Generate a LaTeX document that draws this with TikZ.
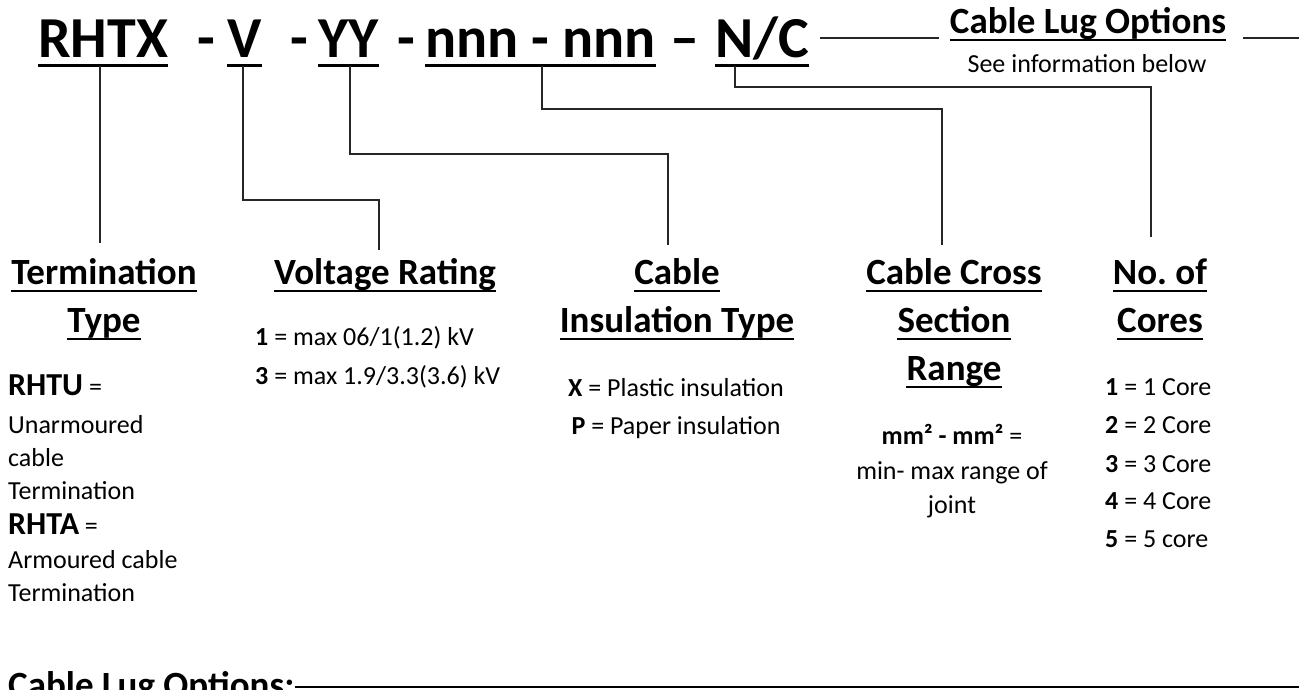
\documentclass[tikz,border=0pt]{standalone}
\usepackage{fontspec}
\setmainfont{Carlito}
\begin{document}
\begin{tikzpicture}[x=1pt,y=-1pt,
  title/.style={font=\fontsize{58}{60}\selectfont\bfseries, inner sep=0pt, anchor=base west},
  head/.style={font=\fontsize{37}{40}\selectfont\bfseries, inner sep=0pt, anchor=base},
  body/.style={font=\fontsize{26}{28}\selectfont, inner sep=0pt},
  ul/.style={line width=3pt},
  hul/.style={line width=2.5pt},
  conn/.style={line width=1.1pt, black!85}]
\useasboundingbox (0,0) rectangle (1299,689);
% title parts
\node[title] (rhtx) at (38,57) {RHTX};
\node[title] (d1) at (197,57) {-};
\node[title] (v) at (227,57) {V};
\node[title] (d2) at (290,57) {-};
\node[title] (yy) at (318,57) {YY};
\node[title] (d3) at (397,57) {-};
\node[title] (nnn) at (425,57) {nnn - nnn};
\node[title] (d4) at (670,57) {–};
\node[title] (nc) at (715,57) {N/C};
\foreach \n in {rhtx,v,yy,nnn,nc}
  \draw[ul] ([yshift=-8pt]\n.base west) -- ([yshift=-8pt]\n.base east);
% cable lug options top
\node[head, anchor=base] (clo) at (1088,33) {Cable Lug Options};
\draw[hul] ([yshift=-7pt]clo.base west) -- ([yshift=-7pt]clo.base east);
\node[body, anchor=base] (see) at (1087,72) {See information below};
\coordinate (g1) at (820,38);
\coordinate (g2) at (939,38);
\coordinate (g3) at (1243,38);
\coordinate (g4) at (1299,38);
\draw[conn] (g1) -- (g2);
\draw[conn] (g3) -- (g4);
% headings
\node[head] (term1) at (104,284) {Termination};
\node[head] (term2) at (104,332) {Type};
\node[head] (volt) at (385,284) {Voltage Rating};
\node[head] (ins1) at (677,284) {Cable};
\node[head] (ins2) at (677,332) {Insulation Type};
\node[head] (cs1) at (954,284) {Cable Cross};
\node[head] (cs2) at (954,332) {Section};
\node[head] (cs3) at (954,380) {Range};
\node[head] (nc1) at (1160,284) {No.\ of};
\node[head] (nc2) at (1160,332) {Cores};
\foreach \n in {term1,term2,volt,ins1,ins2,cs1,cs2,cs3,nc1,nc2}
  \draw[hul] ([yshift=-7pt]\n.base west) -- ([yshift=-7pt]\n.base east);
% connectors
\coordinate (a1) at (100,66);
\coordinate (a2) at (100,243);
\draw[conn] (a1) -- (a2);
\coordinate (b1) at (243,66);
\coordinate (b2) at (379,250);
\draw[conn] (b1) |- (379,200) -- (b2);
\coordinate (c1) at (350,66);
\coordinate (c2) at (668,245);
\draw[conn] (c1) |- (668,154) -- (c2);
\coordinate (e1) at (542,66);
\coordinate (e2) at (942,245);
\draw[conn] (e1) |- (942,109) -- (e2);
\coordinate (f1) at (735,66);
\coordinate (f2) at (1151,237);
\draw[conn] (f1) |- (1151,87) -- (f2);
% termination body
\node[body, anchor=base west] (t1) at (8,395) {{\fontsize{32}{34}\selectfont\bfseries RHTU} =};
\node[body, anchor=base west] (t2) at (8,433) {Unarmoured};
\node[body, anchor=base west] (t3) at (8,466) {cable};
\node[body, anchor=base west] (t4) at (8,499) {Termination};
\node[body, anchor=base west] (t5) at (8,534) {{\fontsize{32}{34}\selectfont\bfseries RHTA} =};
\node[body, anchor=base west] (t6) at (8,568) {Armoured cable};
\node[body, anchor=base west] (t7) at (8,601) {Termination};
% voltage body
\node[body, anchor=base west] (v1) at (255,345) {\textbf{1} = max 06/1(1.2) kV};
\node[body, anchor=base west] (v2) at (255,384) {\textbf{3} = max 1.9/3.3(3.6) kV};
% insulation body
\node[body, anchor=base] (i1) at (676,396) {\textbf{X} = Plastic insulation};
\node[body, anchor=base] (i2) at (676,434) {\textbf{P} = Paper insulation};
% cross section body
\node[body, anchor=base] (s1) at (952,444) {\textbf{mm² - mm²} =};
\node[body, anchor=base] (s2) at (952,479) {min- max range of};
\node[body, anchor=base] (s3) at (952,513) {joint};
% cores body
\node[body, anchor=base west] (k1) at (1105,395) {\textbf{1} = 1 Core};
\node[body, anchor=base west] (k2) at (1105,433) {\textbf{2} = 2 Core};
\node[body, anchor=base west] (k3) at (1105,472) {\textbf{3} = 3 Core};
\node[body, anchor=base west] (k4) at (1105,509) {\textbf{4} = 4 Core};
\node[body, anchor=base west] (k5) at (1105,547) {\textbf{5} = 5 core};
% bottom
\node[head, anchor=base west] (blo) at (8,697) {Cable Lug Options:};
\coordinate (bR) at (1299,687);
\draw[line width=2pt] (blo.east |- bR) -- (bR);
\end{tikzpicture}
\end{document}
